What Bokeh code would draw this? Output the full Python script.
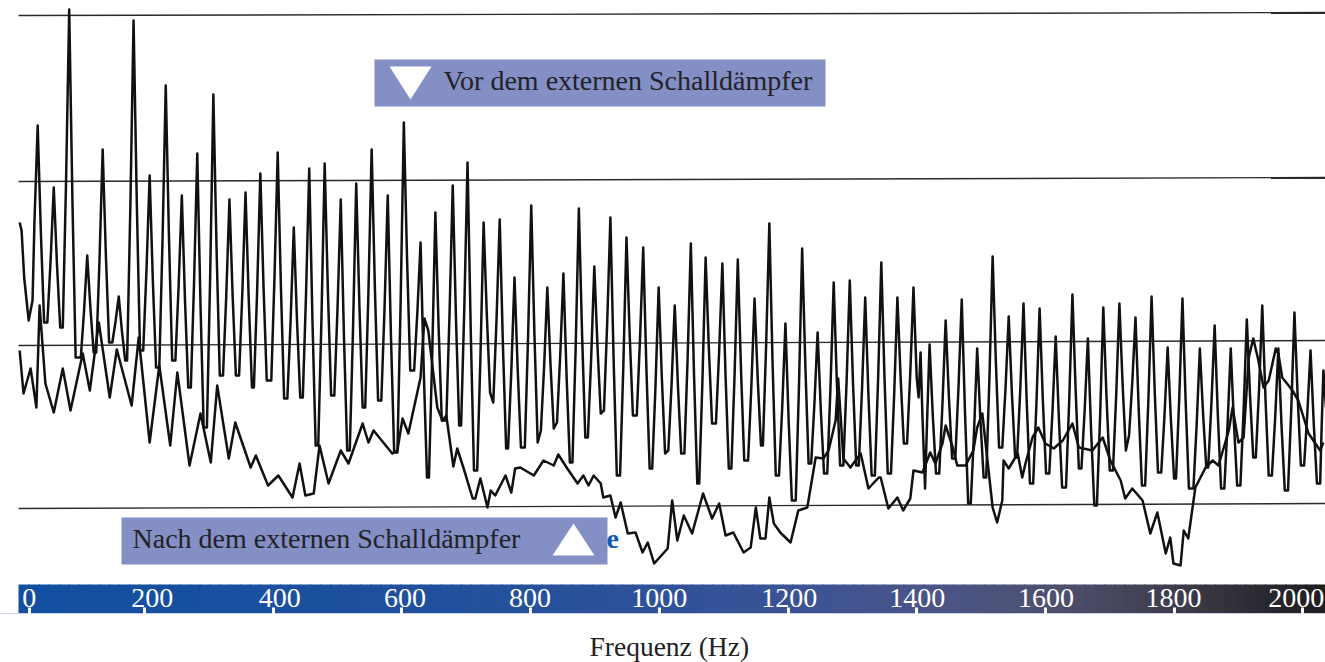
from bokeh.plotting import figure
from bokeh.embed import file_html
from bokeh.resources import INLINE
from bokeh.core.properties import value
from bokeh.models import Range1d, FixedTicker, Title

# ---- chart values (frequency in Hz, relative level with the lowest rule at about 0) ----
vor_freq = [6, 9, 13, 20, 26,
    29,34,39,44,49, 54,59,64,69,73, 78,83,88,93,101, 106,111,116,121,125, 130,135,140,145,150,
    155,160,165,170,173, 178,183,188,193,198, 203,208,213,218,223, 228,233,238,243,248,
    253,258,263,268,272, 277,282,287,292,297, 302,307,312,317,322, 327,332,337,342,347,
    352,357,362,367,370, 375,380,385,390,397, 402,407,412,417,422, 427,432,437,442,446,
    451,456,461,466,470, 475,480,485,490,495, 500,505,510,515,519, 524,529,534,539,543,
    548,553,558,563,568, 573,578,583,588,593, 598,603,608,613,619, 624,629,634,639,642,
    647,652,657,662,669, 674,679,684,689,692, 697,702,707,712,717, 722,727,732,737,742,
    747,752,757,762,765, 770,775,780,785,791, 796,801,806,811,816, 821,826,831,836,841,
    846,851,856,861,865, 870,875,880,885,889, 894,899,904,909,914, 919,924,929,934,939,
    944,949,954,959,965, 970,975,980,985,989, 994,999,1004,1009,1014, 1019,1024,1029,1034,1039,
    1044,1049,1054,1059,1062, 1067,1072,1077,1082,1088, 1093,1098,1103,1108,1112, 1117,1122,1127,1132,1138,
    1143,1148,1153,1158,1161, 1166,1171,1176,1181,1186, 1191,1196,1201,1206,1212, 1217,1222,1227,1232,1236,
    1241,1246,1251,1256,1261, 1266,1271,1276,1281,1286, 1291,1296,1301,1306,1310, 1315,1320,1325,1330,1335,
    1340,1345,1350,1355,1360, 1365,1370,1375,1380,1385, 1390,1395,1400,1403,1406,1409,1413,
    1416,1420,1425,1430,1435, 1440,1445,1450,1455,1460, 1465,1470,1475,1480,1484, 1489,1494,1499,1504,1508,
    1513,1518,1523,1528,1533, 1538,1543,1548,1553,1556, 1561,1566,1571,1576,1581, 1586,1591,1596,1601,1606,
    1611,1616,1621,1626,1632, 1637,1642,1647,1652,1656, 1661,1666,1671,1676,1680, 1685,1690,1695,1700,1705,
    1710,1715,1720,1725,1730, 1735,1740,1745,1750,1755, 1760,1765,1770,1775,1780, 1785,1790,1795,1800,1803,
    1808,1813,1818,1823,1830, 1835,1840,1845,1850,1853, 1858,1863,1868,1873,1878, 1883,1888,1893,1898,1903,
    1908,1913,1918,1923,1927, 1932,1937,1942,1947,1952, 1957,1962,1967,1972,1977, 1982,1987,1992,1997,2002,
    2007,2012,2017,2022,2027, 2029,2032,2036]
vor_level = [285, 277, 230, 187, 207,
    286,382,274,185,185, 246,320,243,180,180, 323,498,307,150,150, 196,252,199,155,155, 246,358,252,165,165,
    186,211,176,147,147, 300,487,306,157,157, 236,332,226,140,140, 267,422,271,147,147,
    221,312,206,120,120, 225,354,203,80,80, 230,413,258,132,132, 211,308,211,132,132,
    214,315,208,120,120, 216,334,220,127,127, 230,355,220,109,109, 186,280,187,110,110,
    213,339,187,62,62, 189,344,216,112,112, 200,308,170,57,57, 177,324,201,100,100,
    216,358,220,107,107, 199,312,171,55,55, 204,385,249,137,137, 195,265,136,30,30,
    149,295,181,87,87, 193,322,190,82,82, 200,345,176,37,37, 149,285,192,115,105,
    187,288,162,59,59, 136,230,137,60,60, 169,302,172,65,77, 141,220,142,79,85,
    152,234,130,45,45, 159,299,173,70,70, 147,241,160,94,97, 184,290,148,32,32,
    139,270,172,92,92, 168,260,138,39,39, 120,220,129,54,57, 122,202,121,54,54,
    149,264,132,24,24, 126,250,159,84,84, 156,244,131,39,39, 133,248,137,47,47,
    120,209,128,62,62, 162,284,145,32,32, 100,184,87,7,7, 120,259,141,44,44,
    103,175,97,34,34, 120,225,124,42,42, 125,227,125,42,42, 118,210,112,32,32,
    128,245,129,34,34, 113,210,130,64,64, 134,220,130,110,155,90,19,
    84,163,92,34,34, 103,187,111,49,49, 121,208,96,4,4, 74,159,88,30,30,
    129,251,146,60,60, 119,191,113,50,50, 119,204,105,24,24, 103,199,108,34,34,
    96,171,88,20,20, 107,213,117,39,39, 97,169,77,2,2, 91,200,110,37,37,
    112,204,123,57,72, 125,190,98,22,22, 107,211,114,35,35, 91,160,88,29,29,
    110,209,105,19,19, 82,159,94,40,40, 104,182,92,19,19, 82,159,84,22,22,
    97,188,112,50,50, 118,202,109,32,32, 89,159,81,17,17, 97,195,111,42,42,
    94,157,84,24,24, 74,137,100]

nach_freq = [6,12,23,32,37,46,59,73,85,104,115,129,146,157,180,191,208,223,240,251,270,287,303,313,331,341,
    365,373,392,408,430,441,450,463,472,486,505,517,539,548,556,585,593,601,610,629,635,641,655,663,669,680,
    686,696,710,714,722,733,738,745,761,770,776,784,805,820,836,843,857,873,882,890,898,909,913,924,932,940,
    951,963,974,982,992,1013,1020,1028,1038,1051,1068,1082,1093,1103,1115,1131,1142,1150,1157,1165,1171,1178,
    1188,1204,1216,1230,1243,1255,1263,1274,1278,1286,1297,1313,1325,1341,1344,1356,1370,1379,1390,1395,1409,
    1421,1429,1440,1445,1456,1463,1476,1488,1494,1502,1510,1518,1525,1533,1535,1543,1557,1564,1569,1580,1589,
    1600,1613,1627,1642,1652,1673,1689,1701,1717,1724,1735,1751,1763,1774,1787,1794,1799,1810,1815,1822,1833,
    1849,1860,1869,1885,1891,1900,1908,1916,1923,1931,1939,1947,1958,1962,1968,1984,1993,2009,2027,2032]
nach_level = [157,114,139,100,202,124,95,139,97,154,117,185,110,158,102,170,65,142,62,135,42,94,45,122,49,85,
    40,52,22,32,10,44,12,14,62,24,57,44,84,65,77,54,57,89,74,130,189,177,100,87,92,41,
    59,39,9,9,29,0,17,12,32,15,39,40,32,47,42,53,39,24,32,22,32,24,10,12,-10,5,
    -26,-25,-45,-35,-56,-41,7,-33,-8,-26,14,-11,4,-28,-25,-45,-40,0,-31,-31,10,-16,
    -25,-35,-3,0,50,49,57,87,129,49,40,54,19,30,30,-1,10,-3,9,37,35,
    55,44,64,82,60,42,42,57,80,94,47,0,-15,7,47,39,54,30,44,70,80,
    64,59,67,84,60,57,70,47,27,9,19,7,-26,-5,-46,-30,-56,-58,-23,-31,20,
    40,47,42,77,100,65,70,150,169,147,120,127,159,154,130,117,107,74,57,65]

rule_left = [492, 326, 162, -1]
rule_right = [495, 330, 167, 4]

tick_values = [22, 200, 400, 600, 800, 1000, 1200, 1400, 1600, 1800, 2000]
tick_texts = ["0", "200", "400", "600", "800", "1000", "1200", "1400", "1600", "1800", "2000"]
tick_text_freq = [21, 212, 410, 605, 799, 1000, 1202, 1401, 1601, 1799, 1990]

legend_before = "Vor dem externen Schalldämpfer"
legend_after = "Nach dem externen Schalldämpfer"
axis_title = "Frequenz (Hz)"

# ---- page geometry of the scan ----
def X(px):
    return (px - 15.3) * 1.554
def Y(py):
    return 507 - py

W, H = 1325, 662
FRAME_BOTTOM = 613
p = figure(width=W, height=H, output_backend="svg", toolbar_location=None,
           x_range=Range1d(X(0), X(W)), y_range=Range1d(Y(FRAME_BOTTOM), Y(0)),
           y_axis_location=None, min_border_left=0, min_border_right=0, min_border_top=0,
           min_border_bottom=H - FRAME_BOTTOM, outline_line_color=None,
           background_fill_color="#ffffff", border_fill_color="#ffffff")
p.grid.visible = False

# horizontal rules
p.segment(x0=[X(18)] * 4, y0=rule_left, x1=[X(1325)] * 4, y1=rule_right, line_color="#2a2a2a", line_width=1.4)

# the two spectra
p.line(vor_freq, vor_level, line_color="#111111", line_width=2.5, line_join="round")
p.line(nach_freq, nach_level, line_color="#111111", line_width=2.5, line_join="round")

# axis band with its colour run
stops = [(0, (18, 79, 160)), (600, (30, 80, 158)), (1000, (47, 82, 152)), (1200, (58, 83, 149)), (1400, (74, 85, 137)),
         (1600, (78, 80, 112)), (1800, (62, 60, 74)), (1950, (40, 38, 44)), (2040, (28, 28, 30))]
def colour_at(f):
    for (f0, c0), (f1, c1) in zip(stops, stops[1:]):
        if f <= f1:
            t = (f - f0) / (f1 - f0)
            return "#%02x%02x%02x" % tuple(round(a + (b - a) * t) for a, b in zip(c0, c1))
    return "#1c1c1e"
edges = [X(18) + i * (X(1325) - X(18)) / 130 for i in range(131)]
p.quad(left=edges[:-1], right=[e + 2 for e in edges[1:]], top=Y(584), bottom=Y(613),
       fill_color=[colour_at(e) for e in edges[:-1]], line_color=None)
p.text(x=tick_text_freq, y=[Y(597)] * len(tick_texts), text=tick_texts, text_color="#ffffff",
       text_font=value("Liberation Serif"), text_font_size="28px", text_align="center", text_baseline="middle")

# legend boxes
p.quad(left=[X(374), X(121)], right=[X(825), X(607)], top=[Y(59), Y(517)], bottom=[Y(106), Y(564)],
       fill_color="#848fc5", line_color=None)
p.patch([X(389), X(431), X(410)], [Y(66), Y(66), Y(99)], fill_color="#ffffff", line_color=None)
p.patch([X(552), X(594), X(573)], [Y(555), Y(555), Y(523)], fill_color="#ffffff", line_color=None)
p.text(x=[X(443)], y=[Y(80)], text=[legend_before], text_color="#222226", text_font=value("Liberation Serif"),
       text_font_size="28px", text_baseline="alphabetic")
p.text(x=[X(132)], y=[Y(538)], text=[legend_after], text_color="#222226", text_font=value("Liberation Serif"),
       text_font_size="28px", text_baseline="alphabetic")
p.text(x=[X(606)], y=[Y(538)], text=["e"], text_color="#1557b0", text_font=value("Liberation Serif"),
       text_font_size="28px", text_font_style="bold", text_baseline="alphabetic")

# real axis: white ticks inside the band (their outer part is white on the white page)
ax = p.xaxis[0]
ax.ticker = FixedTicker(ticks=tick_values)
ax.major_label_overrides = {t: "" for t in tick_values}
ax.major_label_text_font_size = "1px"
ax.major_label_standoff = 0
ax.major_tick_in = 6
ax.major_tick_out = 15
ax.major_tick_line_color = "#ffffff"
ax.major_tick_line_width = 3
ax.minor_tick_line_color = None
ax.axis_line_color = "#c9cfe6"
ax.axis_line_width = 1

# axis title in the panel below the axis, at the scan's horizontal place
p.add_layout(Title(text=axis_title, align="left", offset=589, standoff=0,
                   text_font="Liberation Serif", text_font_size="27.5px", text_font_style="normal",
                   text_color="#222222"), "below")

open("out.html", "w").write(file_html(p, INLINE))
